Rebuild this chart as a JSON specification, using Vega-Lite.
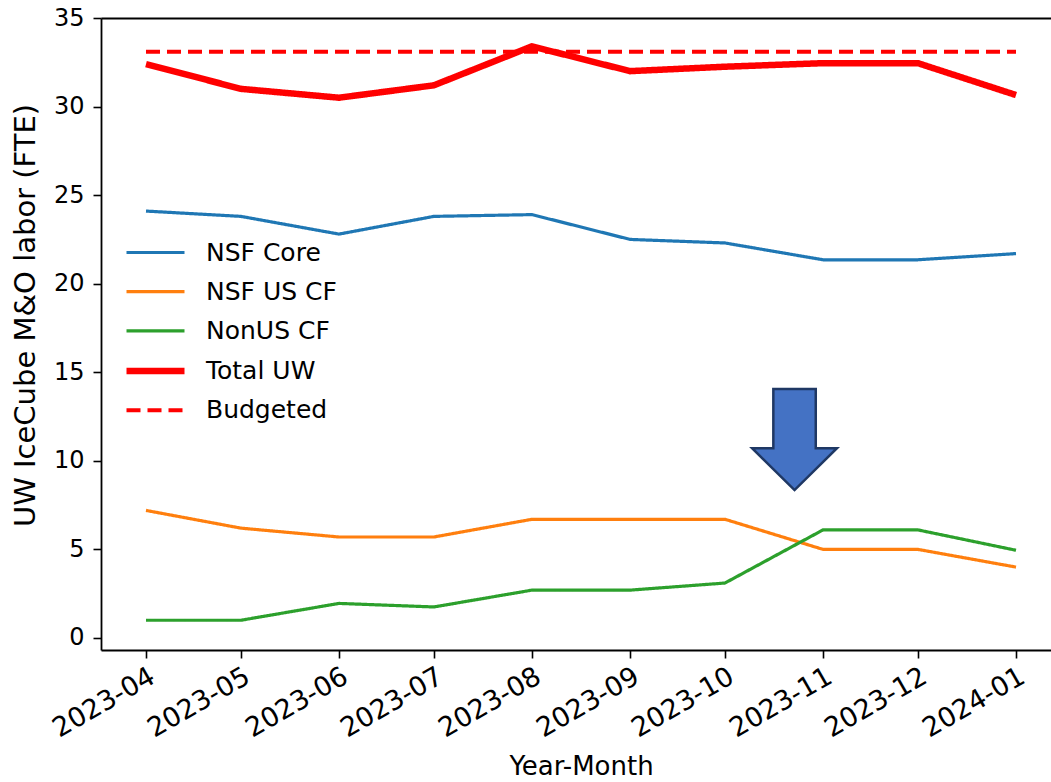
{
  "$schema": "https://vega.github.io/schema/vega-lite/v6.json",
  "autosize": "none",
  "width": 950,
  "height": 632,
  "padding": {"left": 101, "top": 18, "right": 0, "bottom": 132},
  "background": "white",
  "config": {
    "font": "DejaVu Sans",
    "view": {"stroke": null},
    "axis": {
      "domainColor": "black",
      "domainWidth": 1.8,
      "tickColor": "black",
      "tickWidth": 1.6,
      "tickSize": 8,
      "labelColor": "black",
      "titleColor": "black",
      "labelFont": "DejaVu Sans",
      "titleFont": "DejaVu Sans",
      "labelFontSize": 24,
      "titleFontSize": 26,
      "titleFontWeight": "normal",
      "grid": false
    }
  },
  "datasets": {
    "series": [
      {"month": "2023-04-01", "series": "NSF Core", "value": 24.1},
      {"month": "2023-05-01", "series": "NSF Core", "value": 23.8},
      {"month": "2023-06-01", "series": "NSF Core", "value": 22.8},
      {"month": "2023-07-01", "series": "NSF Core", "value": 23.8},
      {"month": "2023-08-01", "series": "NSF Core", "value": 23.9},
      {"month": "2023-09-01", "series": "NSF Core", "value": 22.5},
      {"month": "2023-10-01", "series": "NSF Core", "value": 22.3},
      {"month": "2023-11-01", "series": "NSF Core", "value": 21.35},
      {"month": "2023-12-01", "series": "NSF Core", "value": 21.35},
      {"month": "2024-01-01", "series": "NSF Core", "value": 21.7},
      {"month": "2023-04-01", "series": "NSF US CF", "value": 7.2},
      {"month": "2023-05-01", "series": "NSF US CF", "value": 6.2},
      {"month": "2023-06-01", "series": "NSF US CF", "value": 5.7},
      {"month": "2023-07-01", "series": "NSF US CF", "value": 5.7},
      {"month": "2023-08-01", "series": "NSF US CF", "value": 6.7},
      {"month": "2023-09-01", "series": "NSF US CF", "value": 6.7},
      {"month": "2023-10-01", "series": "NSF US CF", "value": 6.7},
      {"month": "2023-11-01", "series": "NSF US CF", "value": 5.0},
      {"month": "2023-12-01", "series": "NSF US CF", "value": 5.0},
      {"month": "2024-01-01", "series": "NSF US CF", "value": 4.0},
      {"month": "2023-04-01", "series": "NonUS CF", "value": 1.0},
      {"month": "2023-05-01", "series": "NonUS CF", "value": 1.0},
      {"month": "2023-06-01", "series": "NonUS CF", "value": 1.95},
      {"month": "2023-07-01", "series": "NonUS CF", "value": 1.75},
      {"month": "2023-08-01", "series": "NonUS CF", "value": 2.7},
      {"month": "2023-09-01", "series": "NonUS CF", "value": 2.7},
      {"month": "2023-10-01", "series": "NonUS CF", "value": 3.1},
      {"month": "2023-11-01", "series": "NonUS CF", "value": 6.1},
      {"month": "2023-12-01", "series": "NonUS CF", "value": 6.1},
      {"month": "2024-01-01", "series": "NonUS CF", "value": 4.95},
      {"month": "2023-04-01", "series": "Total UW", "value": 32.4},
      {"month": "2023-05-01", "series": "Total UW", "value": 31.0},
      {"month": "2023-06-01", "series": "Total UW", "value": 30.5},
      {"month": "2023-07-01", "series": "Total UW", "value": 31.2},
      {"month": "2023-08-01", "series": "Total UW", "value": 33.4},
      {"month": "2023-09-01", "series": "Total UW", "value": 32.0},
      {"month": "2023-10-01", "series": "Total UW", "value": 32.25},
      {"month": "2023-11-01", "series": "Total UW", "value": 32.45},
      {"month": "2023-12-01", "series": "Total UW", "value": 32.45},
      {"month": "2024-01-01", "series": "Total UW", "value": 30.65},
      {"month": "2023-04-01", "series": "Budgeted", "value": 33.1},
      {"month": "2023-05-01", "series": "Budgeted", "value": 33.1},
      {"month": "2023-06-01", "series": "Budgeted", "value": 33.1},
      {"month": "2023-07-01", "series": "Budgeted", "value": 33.1},
      {"month": "2023-08-01", "series": "Budgeted", "value": 33.1},
      {"month": "2023-09-01", "series": "Budgeted", "value": 33.1},
      {"month": "2023-10-01", "series": "Budgeted", "value": 33.1},
      {"month": "2023-11-01", "series": "Budgeted", "value": 33.1},
      {"month": "2023-12-01", "series": "Budgeted", "value": 33.1},
      {"month": "2024-01-01", "series": "Budgeted", "value": 33.1}
    ],
    "arrow": [
      {"month": "2023-10-23", "value": 11.2}
    ]
  },
  "layer": [
    {
      "data": {"name": "series"},
      "mark": {"type": "line", "strokeCap": "butt", "strokeJoin": "miter"},
      "encoding": {
        "x": {
          "field": "month",
          "type": "temporal",
          "title": "Year-Month",
          "scale": {
            "type": "utc",
            "domain": [
              {"year": 2023, "month": 3, "date": 17, "hours": 18, "minutes": 40, "utc": true},
              {"year": 2024, "month": 1, "date": 12, "hours": 1, "minutes": 30, "utc": true}
            ],
            "nice": false
          },
          "axis": {
            "orient": "bottom",
            "format": "%Y-%m",
            "values": [
              {"year": 2023, "month": 4, "date": 1, "utc": true},
              {"year": 2023, "month": 5, "date": 1, "utc": true},
              {"year": 2023, "month": 6, "date": 1, "utc": true},
              {"year": 2023, "month": 7, "date": 1, "utc": true},
              {"year": 2023, "month": 8, "date": 1, "utc": true},
              {"year": 2023, "month": 9, "date": 1, "utc": true},
              {"year": 2023, "month": 10, "date": 1, "utc": true},
              {"year": 2023, "month": 11, "date": 1, "utc": true},
              {"year": 2023, "month": 12, "date": 1, "utc": true},
              {"year": 2024, "month": 1, "date": 1, "utc": true}
            ],
            "labelAngle": -30,
            "labelAlign": "right",
            "labelBaseline": "top",
            "labelPadding": 5,
            "labelFontSize": 27,
            "labelOverlap": false,
            "labelFlush": false,
            "titlePadding": 12,
            "titleX": 480
          }
        },
        "y": {
          "field": "value",
          "type": "quantitative",
          "title": "UW IceCube M&O labor (FTE)",
          "scale": {"domain": [-0.68, 35], "nice": false, "zero": false},
          "axis": {
            "values": [0, 5, 10, 15, 20, 25, 30, 35],
            "labelPadding": 9,
            "titlePadding": 13,
            "titleFontSize": 29,
            "titleY": 297
          }
        },
        "color": {
          "field": "series",
          "type": "nominal",
          "scale": {
            "domain": ["NSF Core", "NSF US CF", "NonUS CF", "Total UW", "Budgeted"],
            "range": ["#1f77b4", "#ff7f0e", "#2ca02c", "#ff0000", "#ff0000"]
          },
          "legend": {
            "title": null,
            "orient": "none",
            "legendX": 42,
            "legendY": 222,
            "padding": 0,
            "symbolType": "M-5.8,0L5.8,0",
            "symbolSize": 100,
            "labelFontSize": 25,
            "labelFont": "DejaVu Sans",
            "labelColor": "black",
            "labelOffset": 38,
            "rowPadding": 13.2,
            "labelLimit": 400
          }
        },
        "strokeDash": {
          "field": "series",
          "type": "nominal",
          "scale": {
            "domain": ["NSF Core", "NSF US CF", "NonUS CF", "Total UW", "Budgeted"],
            "range": [[1, 0], [1, 0], [1, 0], [1, 0], [14, 7]]
          }
        },
        "strokeWidth": {
          "field": "series",
          "type": "nominal",
          "scale": {
            "type": "ordinal",
            "domain": ["NSF Core", "NSF US CF", "NonUS CF", "Total UW", "Budgeted"],
            "range": [3.2, 3.2, 3.2, 6.5, 4]
          }
        }
      }
    },
    {
      "data": {"name": "arrow"},
      "mark": {
        "type": "point",
        "shape": "M-0.42,-1L0.42,-1L0.42,0.17L0.84,0.17L0,1L-0.84,0.17L-0.42,0.17Z",
        "size": 10201,
        "filled": true,
        "fill": "#4472c4",
        "stroke": "#1f3864",
        "strokeWidth": 2.5,
        "opacity": 1,
        "fillOpacity": 1
      },
      "encoding": {
        "x": {
          "field": "month",
          "type": "temporal",
          "axis": {"orient": "top", "labels": false, "ticks": false, "title": null, "domain": true}
        },
        "y": {"field": "value", "type": "quantitative"}
      }
    }
  ],
  "resolve": {"axis": {"x": "independent"}}
}
